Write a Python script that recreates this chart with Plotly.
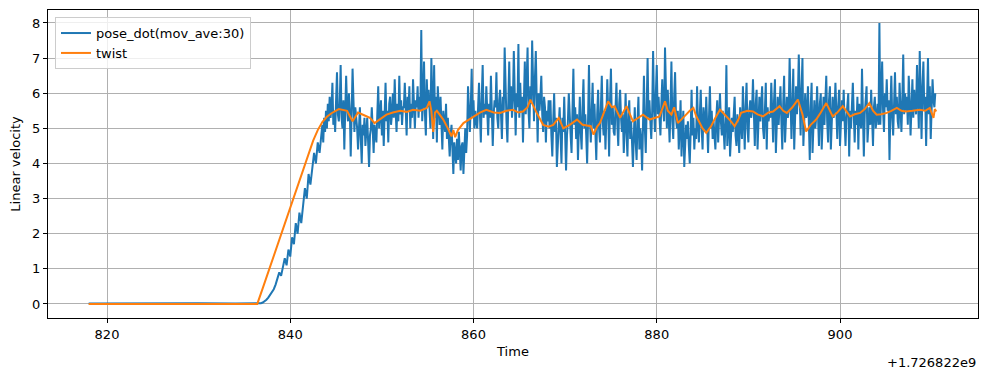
import numpy as np
import plotly.graph_objects as go

# ---- data (time offset from 1.726822e9 s) ----
blue_flat_t = [818.0, 822.0, 826.0, 830.0, 834.0, 836.2]
blue_flat_v = [0.01, 0.02, 0.01, 0.02, 0.01, 0.01]

# ramp part, 5 samples per second starting 836.4
ramp_start = 836.4
ramp_dt = 0.2
blue_ramp_v = [
    0.0, 0.01, 0.02, 0.04, 0.07,
    0.12, 0.18, 0.25, 0.33, 0.42,
    0.55, 0.7, 0.9, 0.8, 1.1,
    1.3, 1.1, 1.55, 1.35, 1.9,
    1.7, 2.3, 2.0, 2.6, 2.3,
    2.9, 3.3, 3.0, 3.7, 3.4,
    3.8, 4.3, 4.0, 4.6, 4.3,
]

# steady part, 10 samples per second starting 843.4
noisy_start = 843.4
noisy_dt = 0.1
blue_noisy_v = [
    4.8, 5.1, 4.6, 5.3, 4.9, 5.5, 5.0, 5.7, 5.2, 5.9,
    5.3, 5.6, 6.3, 5.1, 5.5, 4.9, 5.8, 6.6, 5.4, 5.2,
    5.7, 6.8, 5.3, 5.0, 5.8, 4.4, 5.5, 6.5, 5.6, 5.2,
    6.0, 5.5, 4.2, 5.4, 6.7, 5.8, 4.9, 5.6, 5.3, 5.0,
    4.4, 5.2, 5.6, 4.7, 4.0, 5.1, 4.8, 5.3, 4.5, 4.9,
    5.3, 4.6, 3.9, 4.8, 5.0, 5.6, 4.7, 4.3, 5.1, 4.9,
    4.6, 5.4, 6.2, 5.0, 5.3, 5.8, 4.8, 5.5, 4.5, 5.6,
    6.3, 5.2, 5.5, 4.6, 5.7, 5.9, 5.1, 5.4, 6.0, 5.3,
    6.4, 5.5, 4.9, 5.7, 5.2, 6.5, 5.4, 5.8, 5.1, 5.6,
    5.6, 6.3, 5.3, 4.8, 5.9, 5.5, 6.2, 5.0, 5.7, 5.3,
    6.4, 5.4, 5.0, 5.8, 5.6, 6.2, 5.3, 5.9, 5.5, 7.8,
    5.2, 5.8, 6.9, 5.4, 4.8, 6.4, 5.6, 6.1, 5.5, 5.0,
    7.0, 5.5, 4.7, 6.8, 5.3, 5.9, 4.6, 6.2, 5.4, 5.1,
    5.9, 5.0, 4.4, 5.5, 5.2, 4.9, 5.7, 4.7, 5.3, 4.6,
    4.2, 4.8, 5.1, 4.4, 3.7, 4.6, 4.3, 4.0, 4.7, 4.1,
    4.9, 4.2, 3.8, 4.5, 4.6, 3.7, 4.4, 5.0, 4.3, 4.8,
    6.2, 5.1, 4.9, 5.6, 6.7, 5.3, 5.8, 5.0, 5.5, 5.2,
    5.0, 5.6, 6.3, 5.4, 4.6, 5.9, 6.8, 5.3, 5.7, 5.4,
    6.2, 5.5, 4.8, 5.7, 5.3, 6.5, 5.6, 4.5, 5.4, 5.8,
    5.6, 6.6, 5.3, 5.0, 5.8, 6.1, 5.4, 4.7, 5.9, 5.5,
    7.3, 5.6, 5.2, 4.6, 5.9, 6.9, 5.5, 6.2, 5.3, 5.8,
    7.2, 5.7, 4.8, 6.0, 5.6, 7.4, 5.3, 6.3, 5.5, 5.9,
    4.6, 5.8, 6.9, 5.4, 6.1, 7.3, 5.5, 5.0, 6.2, 5.7,
    7.5, 5.6, 5.2, 6.4, 7.2, 5.8, 4.6, 6.0, 5.5, 5.9,
    6.5, 5.4, 4.9, 5.9, 5.6, 4.6, 5.5, 5.2, 5.8, 5.0,
    5.8, 4.8, 4.2, 5.2, 6.0, 4.9, 5.3, 3.9, 4.7, 5.1,
    5.6, 4.6, 4.0, 5.3, 4.9, 5.9, 5.0, 3.8, 4.8, 5.2,
    6.0, 5.2, 4.8, 4.3, 5.5, 6.7, 5.1, 5.6, 4.7, 5.4,
    4.1, 5.3, 5.9, 4.9, 4.4, 5.6, 6.4, 5.0, 5.4, 4.8,
    4.0, 5.2, 6.8, 5.3, 4.6, 5.5, 6.3, 5.0, 5.7, 4.9,
    4.1, 5.4, 6.1, 5.0, 4.6, 5.6, 6.5, 5.2, 4.8, 5.5,
    4.4, 5.3, 6.4, 5.5, 4.2, 5.8, 6.7, 5.1, 5.6, 4.9,
    4.8, 5.6, 6.3, 5.1, 4.5, 5.7, 6.1, 5.3, 4.9, 5.4,
    4.3, 5.0, 6.0, 4.9, 4.2, 5.4, 5.8, 4.7, 5.2, 4.6,
    3.9, 4.8, 5.6, 4.6, 4.1, 5.2, 5.9, 4.4, 5.0, 4.7,
    3.8, 5.1, 6.5, 5.0, 4.3, 5.6, 7.0, 5.3, 5.8, 5.2,
    4.7, 5.5, 7.2, 5.6, 4.9, 6.0, 6.8, 5.4, 5.9, 5.3,
    4.8, 5.7, 6.4, 5.5, 5.2, 7.3, 5.9, 5.0, 6.1, 5.4,
    4.6, 5.6, 6.9, 5.2, 4.7, 5.9, 6.6, 5.3, 5.0, 5.5,
    4.4, 5.0, 5.8, 4.2, 4.8, 5.5, 3.9, 4.6, 5.1, 4.7,
    5.2, 4.5, 4.0, 4.9, 6.1, 4.8, 5.3, 4.4, 5.0, 4.7,
    6.2, 5.1, 4.6, 5.4, 6.1, 5.0, 4.4, 5.6, 5.2, 4.9,
    5.9, 4.9, 4.3, 5.3, 6.2, 5.0, 5.5, 4.7, 5.2, 4.8,
    4.4, 5.3, 5.8, 4.6, 5.1, 6.0, 5.2, 4.8, 5.5, 5.0,
    4.4, 5.2, 6.8, 4.5, 5.4, 5.6, 4.2, 5.0, 5.3, 4.9,
    5.3, 5.9, 4.8, 4.5, 5.4, 5.0, 4.3, 5.6, 5.1, 4.7,
    6.2, 5.2, 4.4, 5.6, 6.3, 5.0, 4.6, 5.5, 5.8, 5.3,
    5.5, 6.4, 5.1, 4.5, 5.7, 6.1, 4.4, 5.3, 5.9, 5.2,
    5.7, 6.2, 5.0, 4.7, 5.5, 6.3, 4.4, 5.6, 5.2, 5.4,
    5.3, 6.3, 5.5, 4.6, 5.8, 6.4, 4.3, 5.4, 5.9, 5.1,
    5.6, 6.2, 5.2, 4.4, 5.7, 6.5, 4.6, 5.5, 5.9, 5.3,
    5.5, 7.0, 5.8, 4.7, 5.6, 6.7, 4.4, 5.9, 6.2, 5.4,
    5.9, 7.1, 5.5, 4.8, 6.1, 7.0, 4.5, 5.7, 6.0, 5.3,
    5.4, 6.2, 4.8, 4.1, 5.6, 6.3, 4.3, 5.2, 5.8, 5.0,
    5.3, 6.2, 5.0, 4.5, 5.7, 6.0, 4.4, 5.4, 5.9, 5.1,
    5.6, 6.5, 5.2, 4.6, 5.8, 6.2, 4.4, 5.5, 5.9, 5.3,
    5.5, 6.3, 5.1, 4.7, 5.6, 6.1, 4.5, 5.3, 5.8, 5.2,
    6.1, 5.2, 4.5, 5.3, 5.8, 6.0, 4.2, 5.5, 5.0, 5.6,
    6.3, 5.4, 4.6, 5.5, 5.1, 5.9, 4.4, 5.7, 5.2, 5.0,
    6.7, 5.5, 4.2, 5.4, 5.8, 6.2, 4.6, 5.3, 5.6, 5.1,
    6.1, 5.3, 4.5, 5.6, 5.9, 5.0, 5.4, 5.7, 5.1, 8.0,
    5.1, 6.2, 6.9, 5.5, 4.9, 6.0, 5.6, 6.4, 5.5, 5.8,
    4.1, 5.6, 6.5, 5.3, 4.8, 5.7, 6.6, 5.4, 5.9, 5.2,
    5.0, 6.3, 5.7, 4.9, 5.8, 7.1, 5.4, 6.0, 5.5, 5.9,
    5.1, 6.5, 5.8, 4.8, 5.6, 6.4, 5.3, 6.1, 5.7, 5.4,
    6.8, 5.6, 5.0, 7.2, 5.8, 4.7, 6.2, 6.9, 5.5, 5.9,
    4.5, 5.8, 7.0, 5.4, 6.2, 4.7, 5.9, 6.4, 5.8, 5.6,
    6.0,
]

orange_t = [818.0, 836.4, 837.0, 842.0, 842.5, 843.0, 843.5, 844.0, 844.5, 845.3,
            846.2, 846.8, 847.4, 848.0,
            848.7, 849.2, 849.8, 850.5, 851.2, 852.0, 852.7, 853.4, 854.2, 854.9,
            855.2, 855.4, 855.6, 855.8, 856.0, 856.7, 857.2, 857.6, 857.8, 858.0,
            858.3, 858.9, 859.5, 860.0, 860.7, 861.4, 862.2, 862.9, 863.6, 864.3,
            864.9, 865.4, 865.9, 866.2, 866.5, 866.9, 867.6, 868.2, 868.7, 869.3,
            869.8, 870.5, 871.3, 871.9, 872.8, 873.1, 873.5, 873.8, 874.3, 874.7,
            875.1, 875.4, 876.0, 876.7, 877.4, 878.0, 878.5, 879.2, 879.8, 880.3,
            880.9, 881.2, 881.6, 881.9, 882.3, 882.8, 883.2, 883.6, 884.0, 884.3,
            884.7, 885.0, 885.4, 885.9, 886.3, 886.9, 887.2, 887.6, 888.1, 888.5,
            888.9, 889.2, 889.9, 890.5, 891.0, 891.6, 892.2, 892.7, 893.4, 893.8,
            894.2, 894.8, 895.4, 895.9, 896.3, 896.8, 897.4, 897.9, 898.5, 899.2,
            899.7, 900.3, 900.7, 901.1, 901.6, 902.2, 902.7, 903.2, 903.6, 904.0,
            904.5, 905.1, 905.6, 906.2, 906.7, 907.2, 907.9, 908.7, 909.3, 909.8,
            910.2, 910.35, 910.5]
orange_v = [0.0, 0.0, 0.45, 4.3, 4.65, 4.95, 5.18, 5.33, 5.43, 5.55,
            5.5, 5.2, 5.45, 5.38,
            5.3, 5.15, 5.25, 5.39, 5.45, 5.5, 5.47, 5.53, 5.5, 5.58,
            5.77, 5.5, 4.9, 5.45, 5.5, 5.25, 5.0, 4.77, 4.95, 4.75,
            4.95, 5.15, 5.25, 5.34, 5.45, 5.53, 5.45, 5.44, 5.5, 5.53,
            5.45, 5.48, 5.6, 5.82, 5.65, 5.44, 5.1, 5.05, 5.1, 5.3,
            5.0, 5.1, 5.25, 5.1, 5.06, 4.82, 5.05, 5.15, 5.5, 5.77,
            5.6, 5.63, 5.3, 5.63, 5.2, 5.3, 5.39, 5.25, 5.3, 5.34,
            5.77, 5.5, 5.39, 5.6, 5.15, 5.3, 5.39, 5.5, 5.58, 5.35,
            5.15, 5.0, 4.87, 5.05, 5.25, 5.53, 5.45, 5.34, 5.2, 5.06,
            5.25, 5.44, 5.5, 5.48, 5.4, 5.34, 5.45, 5.48, 5.63, 5.5,
            5.44, 5.6, 5.82, 5.4, 4.91, 5.1, 5.25, 5.45, 5.72, 5.34,
            5.45, 5.63, 5.5, 5.34, 5.4, 5.44, 5.55, 5.72, 5.5, 5.39,
            5.4, 5.44, 5.5, 5.58, 5.5, 5.48, 5.5, 5.53, 5.5, 5.58,
            5.3, 5.55, 5.48]

x_ticks = [820, 840, 860, 880, 900]
y_ticks = [0, 1, 2, 3, 4, 5, 6, 7, 8]
offset_label = "+1.726822e9"

blue_t = (list(blue_flat_t)
          + list(ramp_start + ramp_dt * np.arange(len(blue_ramp_v)))
          + list(noisy_start + noisy_dt * np.arange(len(blue_noisy_v))))
blue_all = list(blue_flat_v) + blue_ramp_v + blue_noisy_v

FONT = "DejaVu Sans"
fig = go.Figure()
fig.add_trace(go.Scatter(x=blue_t, y=blue_all, mode="lines", name="pose_dot(mov_ave:30)",
                         line=dict(color="#1f77b4", width=2)))
fig.add_trace(go.Scatter(x=orange_t, y=orange_v, mode="lines", name="twist",
                         line=dict(color="#ff7f0e", width=2)))

axis_common = dict(showline=True, linecolor="black", linewidth=1, mirror=True,
                   showgrid=True, gridcolor="#b0b0b0", gridwidth=0.8, zeroline=False,
                   ticks="outside", ticklen=4, tickcolor="black", tickwidth=1,
                   tickfont=dict(family=FONT, size=13, color="black"))
fig.update_layout(
    width=988, height=371,
    margin=dict(l=48, r=10, t=10, b=53),
    paper_bgcolor="white", plot_bgcolor="white",
    font=dict(family=FONT, size=13, color="black"),
    xaxis=dict(range=[813.56, 915.06], tickvals=x_ticks, ticktext=[str(v) for v in x_ticks],
               title=dict(text="Time", font=dict(family=FONT, size=13), standoff=6),
               **axis_common),
    yaxis=dict(range=[-0.4, 8.37], tickvals=y_ticks, ticktext=[str(v) for v in y_ticks],
               title=dict(text="Linear velocity", font=dict(family=FONT, size=13), standoff=8),
               **axis_common),
    legend=dict(x=0.0075, y=0.977, xanchor="left", yanchor="top",
                bgcolor="rgba(255,255,255,0.8)", bordercolor="#cccccc", borderwidth=1,
                font=dict(family=FONT, size=13), tracegroupgap=0),
    showlegend=True,
)
fig.add_annotation(text=offset_label, xref="paper", yref="paper", x=1.0, y=-0.115,
                   xanchor="right", yanchor="top", showarrow=False,
                   font=dict(family=FONT, size=13, color="black"))
fig.write_html("out.html", config={"displayModeBar": False},
               post_script="document.body.style.margin='0';document.body.style.overflow='hidden';")
